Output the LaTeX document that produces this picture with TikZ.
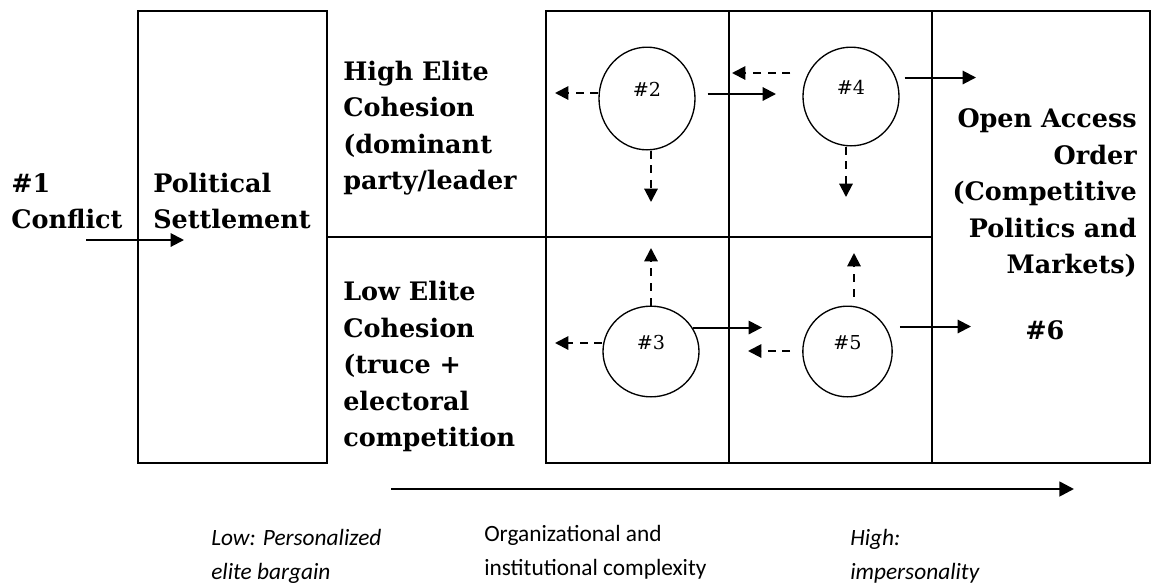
\documentclass[tikz,border=0pt]{standalone}
\usepackage{fontspec}
\setmainfont{DejaVu Serif}
\newfontfamily\carlito{Carlito}
\usetikzlibrary{arrows.meta,shapes.geometric}
\begin{document}
\begin{tikzpicture}[x=0.75pt,y=-0.75pt,
  grid/.style={line width=1.5pt},
  state/.style={draw, ellipse, line width=1pt, inner sep=0pt,
    font=\fontsize{14.4pt}{16pt}\selectfont, text depth=13.5pt},
  lbl/.style={inner sep=0pt, align=left, font=\fontsize{19.1pt}{27.4pt}\selectfont\bfseries},
  lblr/.style={lbl, align=right},
  bot/.style={inner sep=0pt, align=left, font=\carlito\fontsize{17.5pt}{25.5pt}\selectfont},
  boti/.style={bot, font=\carlito\fontsize{17.5pt}{25.5pt}\selectfont\itshape},
  arr/.style={-{Triangle[length=10pt,width=10pt]}, line width=1.5pt},
  darr/.style={arr, dash pattern=on 6pt off 5pt},
]
\useasboundingbox (0,0) rectangle (1154,583);

% frames
\draw[grid] (138,11) rectangle (327,463);
\draw[grid] (546,11) rectangle (1150,463);
\draw[grid] (729,11) -- (729,463);
\draw[grid] (932,11) -- (932,463);
\draw[grid] (327,237) -- (932,237);

% texts
\node[lbl, anchor=north west] (n1) at (11,166.5) {\strut\#1\\Conflict};
\node[lbl, anchor=north west] (ps) at (153,166.5) {\strut Political\\Settlement};
\node[lbl, anchor=north west] (hi) at (343,54.5) {\strut High Elite\\Cohesion\\(dominant\\party/leader};
\node[lbl, anchor=north west] (lo) at (343,275) {\strut Low Elite\\Cohesion\\(truce +\\electoral\\competition};
\node[lblr, anchor=north east] (oa) at (1137,102) {\strut Open Access\\Order\\(Competitive\\Politics and\\Markets)};
\node[lbl, anchor=base west] (n6) at (1025,339) {\#6};

\node[boti, anchor=north west] (lowb) at (211,521) {\strut Low: Personalized\\elite bargain};
\node[bot, anchor=north west] (org) at (484,517) {\strut Organizational and\\institutional complexity};
\node[boti, anchor=north west] (highb) at (850,521) {\strut High:\\impersonality};

% states
\node[state, minimum width=72pt, minimum height=77pt] (c2) at (647,98.5) {\#2};
\node[state, minimum width=72pt, minimum height=74pt] (c4) at (851,96.5) {\#4};
\node[state, minimum width=72pt, minimum height=68pt] (c3) at (651,351.5) {\#3};
\node[state, minimum width=67pt, minimum height=68pt] (c5) at (847.5,351.5) {\#5};

% arrow tips
\coordinate (t2l) at (555,93);
\coordinate (t2d) at (651,202);
\coordinate (t2r) at (776,94);
\coordinate (t4l) at (732,73);
\coordinate (t4d) at (846,197);
\coordinate (t4r) at (976,77.5);
\coordinate (t3u) at (651,248);
\coordinate (t3l) at (555,343);
\coordinate (t3r) at (762,328);
\coordinate (t5u) at (854,253);
\coordinate (t5l) at (748,351);
\coordinate (t5r) at (971,326.5);

\draw[darr] (c2.west |- t2l) -- (t2l);
\draw[darr] (c2.south -| t2d) -- (t2d);
\draw[arr, shorten <=9pt] (c2.east |- t2r) -- (t2r);

\draw[darr, shorten <=9pt] (c4.west |- t4l) -- (t4l);
\draw[darr] (c4.south -| t4d) -- (t4d);
\draw[arr, shorten <=3.75pt] (c4.east |- t4r) -- (t4r);

\draw[darr] (c3.north -| t3u) -- (t3u);
\draw[darr] (c3.west |- t3l) -- (t3l);
\draw[arr] (c3.30) -- (c3.30 -| t3r);

\draw[darr, shorten <=6.75pt] (c5.north -| t5u) -- (t5u);
\draw[darr, shorten <=9pt] (c5.west |- t5l) -- (t5l);
\draw[arr, shorten <=5.25pt] (c5.east |- t5r) -- (t5r);

% conflict arrow
\coordinate (cfs) at (86,240);
\coordinate (cfe) at (184,240);
\draw[arr] (cfs) -- (cfe);

% axis arrow
\coordinate (axs) at (391,489);
\coordinate (axe) at (1074,489);
\draw[-{Triangle[length=11pt,width=11pt]}, line width=2pt] (axs) -- (axe);
\end{tikzpicture}
\end{document}
